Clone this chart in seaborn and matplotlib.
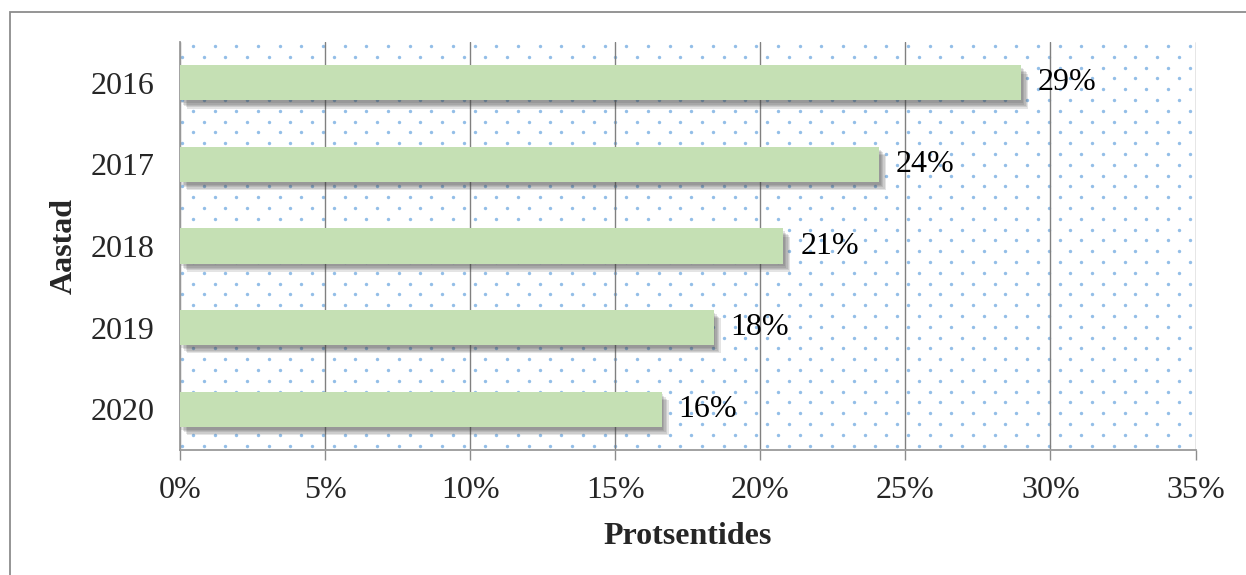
import numpy as np
import matplotlib
matplotlib.use("Agg")
import matplotlib.pyplot as plt
import matplotlib.patheffects as pe
from matplotlib.patches import Rectangle
from matplotlib.ticker import FuncFormatter, MultipleLocator
import seaborn as sns

# data
years = ["2016", "2017", "2018", "2019", "2020"]
shares = [29.0, 24.1, 20.8, 18.4, 16.6]
labels = ["29%", "24%", "21%", "18%", "16%"]

sns.set_style("white")
plt.rcParams['font.family'] = ['Liberation Serif', 'DejaVu Serif']

fig = plt.figure(figsize=(12.46, 5.75), dpi=100)
ax = fig.add_axes([180 / 1246, 125 / 575, 1015.5 / 1246, 408 / 575])

# dotted background pattern (decoration only)
px_w, px_h = 1015.5, 408
dx, dy = 21.67 / px_w, 10.8 / px_h
pts = []
for i, yy in enumerate(np.arange(1.0 - 4 / px_h, -0.001, -dy)):
    off = 0 if i % 2 else dx / 2
    for xx in np.arange(off + 2 / px_w, 1.0, dx):
        pts.append((xx, yy))
pts = np.array(pts)
ax.scatter(pts[:, 0], pts[:, 1], s=6, color="#6fa8e0", alpha=0.75, linewidths=0,
           transform=ax.transAxes, zorder=0, clip_on=True)

sns.barplot(x=shares, y=years, orient="h", color="#c5e0b4", width=0.43,
            saturation=1, linewidth=0, ax=ax, zorder=3)

# soft drop shadow: a few stacked offset shadows
shadow = [pe.SimplePatchShadow(offset=(o, -o - 1), shadow_rgbFace="#404040", alpha=0.14)
          for o in (1, 2, 3, 4, 5)]
for p in ax.patches:
    p.set_path_effects(shadow + [pe.Normal()])

ax.bar_label(ax.containers[0], labels=labels, padding=12, fontsize=23, color="black")

ax.set_xlim(0, 35)
ax.set_ylim(4.5, -0.5)
ax.xaxis.set_major_locator(MultipleLocator(5))
ax.xaxis.set_major_formatter(FuncFormatter(lambda v, _: f"{v:.0f}%"))
ax.grid(axis="x", color="#808080", linewidth=1.0, zorder=1)
ax.set_axisbelow(True)

for side in ["top", "right"]:
    ax.spines[side].set_visible(False)
for side in ["left", "bottom"]:
    ax.spines[side].set_color("#9a9a9a")
    ax.spines[side].set_linewidth(1.3)

ax.tick_params(axis="x", length=7, width=1, color="#8c8c8c", labelsize=23, pad=12, bottom=True)
ax.tick_params(axis="y", length=0, labelsize=23, pad=18)

ax.set_xlabel("Protsentides", fontsize=23, fontweight="bold", labelpad=12)
ax.set_ylabel("Aastad", fontsize=23, fontweight="bold", labelpad=9)

# outer frame around the chart
fig.patches.append(Rectangle((10 / 1246, -0.1), 1.2, (575 - 12) / 575 + 0.1,
                             transform=fig.transFigure, fill=False,
                             edgecolor="#8c8c8c", linewidth=1.3))

fig.savefig("out.png", dpi=100)
